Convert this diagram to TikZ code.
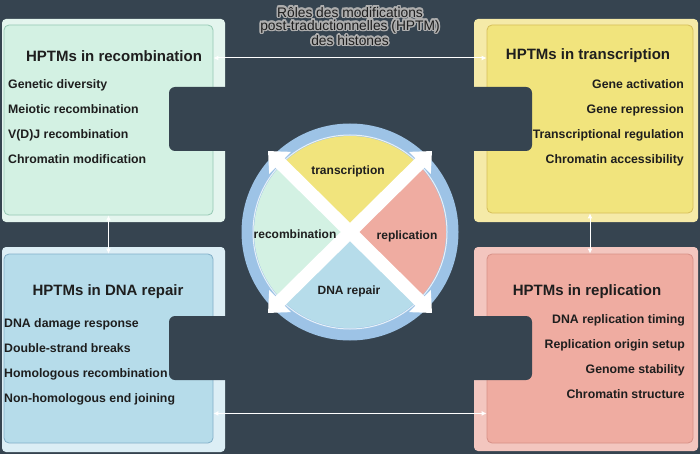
\documentclass[tikz,border=0pt]{standalone}
\usepackage{fontspec}
\setmainfont{Liberation Sans}
\usepackage[copies]{contour}
\contourlength{1.5pt}
\contournumber{16}
\usetikzlibrary{arrows.meta}
\definecolor{slate}{RGB}{54,68,80}
\definecolor{halo}{RGB}{175,175,175}
\definecolor{ink}{RGB}{30,30,30}
\definecolor{mint}{RGB}{211,241,227}
\definecolor{mintframe}{RGB}{228,245,238}
\definecolor{mintline}{RGB}{150,200,180}
\definecolor{lemon}{RGB}{241,228,125}
\definecolor{lemonframe}{RGB}{245,234,168}
\definecolor{lemonline}{RGB}{214,190,90}
\definecolor{sky}{RGB}{182,220,234}
\definecolor{skyframe}{RGB}{220,238,245}
\definecolor{skyline}{RGB}{130,175,200}
\definecolor{salmon}{RGB}{239,172,161}
\definecolor{salmonframe}{RGB}{243,198,191}
\definecolor{salmonline}{RGB}{215,145,135}
\definecolor{ring}{RGB}{157,195,230}
\tikzset{
  panel/.style={rectangle, rounded corners=5pt, line width=0.8pt, inner sep=0pt},
  notch/.style={fill=slate, rounded corners=6pt},
  heading/.style={font=\fontsize{13.8}{13}\selectfont, align=center, inner sep=0pt},
  boxtitle/.style={font=\fontsize{15}{15}\selectfont\bfseries, text=ink, inner sep=0pt},
  item/.style={font=\fontsize{12.3}{12}\selectfont\bfseries, text=ink, inner sep=0pt,
    text height=9pt, text depth=2.6pt},
  wedge/.style={font=\fontsize{12}{12}\selectfont\bfseries, text=ink, inner sep=0pt},
  link/.style={{Latex[length=5pt,width=5pt]}-{Latex[length=5pt,width=5pt]}, white, line width=1pt},
  bigarrow/.style={{Triangle[width=30pt,length=17pt]}-{Triangle[width=30pt,length=17pt]},
    white, line width=13pt}
}

\begin{document}
\begin{tikzpicture}[x=1pt,y=-1pt]
  \fill[slate] (0,0) rectangle (700,454);

  % frames
  \fill[mintframe, rounded corners=4pt] (2,19) rectangle (225,222);
  \fill[lemonframe, rounded corners=4pt] (474,19) rectangle (698,222);
  \fill[skyframe, rounded corners=4pt] (2,247) rectangle (225,452);
  \fill[salmonframe, rounded corners=4pt] (474,247) rectangle (698,451);

  % panels
  \node[panel, fill=mint, draw=mintline, minimum width=209pt, minimum height=190pt] (rec) at (108.5,120) {};
  \node[panel, fill=lemon, draw=lemonline, minimum width=206pt, minimum height=188pt] (trs) at (590,119) {};
  \node[panel, fill=sky, draw=skyline, minimum width=209pt, minimum height=189pt] (dna) at (108.5,348.5) {};
  \node[panel, fill=salmon, draw=salmonline, minimum width=206pt, minimum height=189pt] (rep) at (590,348.5) {};

  % notches
  \fill[notch] (169,87) rectangle (232,151);
  \fill[notch] (169,316) rectangle (232,380);
  \fill[notch] (467,87) rectangle (532,151);
  \fill[notch] (467,316) rectangle (532,380);

  % heading
  \node[heading, text=ink] (title) at (350,27)
    {\contour{halo}{Rôles des modifications}\\\contour{halo}{post-traductionnelles (HPTM)}\\\contour{halo}{des histones}};

  % box texts
  \node[boxtitle] (rectitle) at (114,56) {HPTMs in recombination};
  \foreach \t [count=\i] in {Genetic diversity, Meiotic recombination, V(D)J recombination, Chromatin modification}
    \node[item, anchor=west] (rec\i) at (8,60+25*\i) {\t};
  \node[boxtitle] (trstitle) at (588,56) {HPTMs in transcription};
  \foreach \t [count=\i] in {Gene activation, Gene repression, Transcriptional regulation, Chromatin accessibility}
    \node[item, anchor=east] (trs\i) at (684,60+25*\i) {\t};
  \node[boxtitle] (dnatitle) at (108,292) {HPTMs in DNA repair};
  \foreach \t [count=\i] in {DNA damage response, Double-strand breaks, Homologous recombination, Non-homologous end joining}
    \node[item, anchor=west] (dna\i) at (4,299+25*\i) {\t};
  \node[boxtitle] (reptitle) at (587,292) {HPTMs in replication};
  \foreach \t [count=\i] in {DNA replication timing, Replication origin setup, Genome stability, Chromatin structure}
    \node[item, anchor=east] (rep\i) at (685,296+24.7*\i) {\t};

  % links between boxes
  \draw[link] (rec.east |- 0,58) -- (trs.west |- 0,58);
  \draw[link] (rec.south) -- (dna.north);
  \draw[link] (trs.south) -- (rep.north);
  \draw[link] ([yshift=30pt]dna.south east) -- ([yshift=30pt]rep.south west);

  % wheel
  \coordinate (hub) at (350,232);
  \fill[ring] (hub) circle[radius=108.5];
  \draw[white!75!ring, line width=1pt] (hub) circle[radius=97];
  \fill[lemon] (hub) -- ++(225:96) arc[start angle=225, end angle=315, radius=96] -- cycle;
  \fill[salmon] (hub) -- ++(-45:96) arc[start angle=-45, end angle=45, radius=96] -- cycle;
  \fill[sky] (hub) -- ++(45:96) arc[start angle=45, end angle=135, radius=96] -- cycle;
  \fill[mint] (hub) -- ++(135:96) arc[start angle=135, end angle=225, radius=96] -- cycle;
  \coordinate (nw) at (268,151);
  \coordinate (ne) at (432,151);
  \coordinate (sw) at (268,313);
  \coordinate (se) at (432,313);
  \draw[bigarrow] (nw) -- (se);
  \draw[bigarrow] (ne) -- (sw);
  \node[wedge] (wtrs) at (348,171) {transcription};
  \node[wedge] (wrep) at (407,236) {replication};
  \node[wedge] (wdna) at (349,291) {DNA repair};
  \node[wedge] (wrec) at (295,234) {recombination};
\end{tikzpicture}
\end{document}
